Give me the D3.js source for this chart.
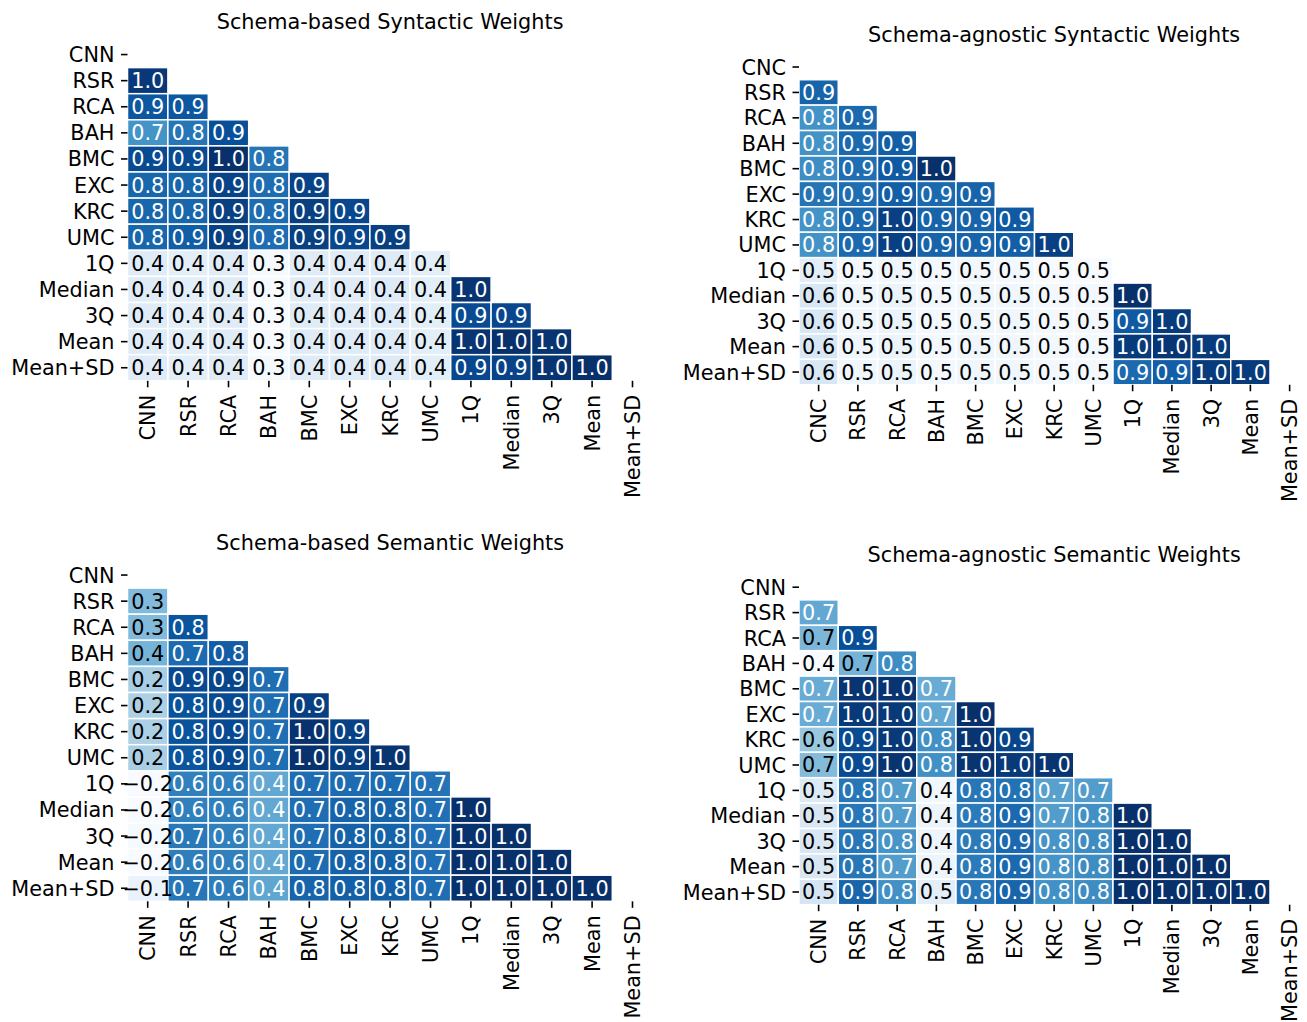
<!DOCTYPE html>
<html>
<head>
<meta charset="utf-8">
<script src="https://cdn.jsdelivr.net/npm/d3@7"></script>
<style>
  html, body { margin: 0; padding: 0; background: #fff; }
  svg text { font-family: "DejaVu Sans", sans-serif; }
</style>
</head>
<body>
<svg id="chart" width="1307" height="1022"></svg>
<script>
// Row/column labels of each correlation matrix
const labelsCNN = ["CNN", "RSR", "RCA", "BAH", "BMC", "EXC", "KRC", "UMC", "1Q", "Median", "3Q", "Mean", "Mean+SD"];
const labelsCNC = ["CNC", "RSR", "RCA", "BAH", "BMC", "EXC", "KRC", "UMC", "1Q", "Median", "3Q", "Mean", "Mean+SD"];

const titles = [
  "Schema-based Syntactic Weights",
  "Schema-agnostic Syntactic Weights",
  "Schema-based Semantic Weights",
  "Schema-agnostic Semantic Weights"
];

// Lower-triangular correlation values; row i holds the values for columns 0..i-1
const schemaBasedSyntactic = [
  [],
  [0.96],
  [0.88, 0.88],
  [0.72, 0.80, 0.90],
  [0.91, 0.91, 0.98, 0.80],
  [0.84, 0.84, 0.93, 0.82, 0.93],
  [0.84, 0.84, 0.94, 0.82, 0.94, 0.92],
  [0.84, 0.86, 0.94, 0.82, 0.94, 0.92, 0.94],
  [0.38, 0.37, 0.38, 0.31, 0.38, 0.38, 0.39, 0.37],
  [0.38, 0.37, 0.38, 0.30, 0.38, 0.38, 0.39, 0.37, 0.97],
  [0.38, 0.37, 0.38, 0.30, 0.38, 0.38, 0.39, 0.37, 0.91, 0.92],
  [0.38, 0.37, 0.38, 0.30, 0.38, 0.38, 0.39, 0.37, 0.97, 0.98, 0.97],
  [0.38, 0.37, 0.38, 0.31, 0.38, 0.38, 0.39, 0.37, 0.92, 0.93, 0.97, 0.98]
];

const schemaAgnosticSyntactic = [
  [],
  [0.89],
  [0.80, 0.88],
  [0.80, 0.88, 0.90],
  [0.81, 0.87, 0.91, 0.99],
  [0.86, 0.87, 0.90, 0.88, 0.89],
  [0.80, 0.88, 0.96, 0.89, 0.89, 0.91],
  [0.80, 0.88, 0.96, 0.89, 0.89, 0.90, 0.96],
  [0.54, 0.50, 0.51, 0.50, 0.505, 0.50, 0.49, 0.49],
  [0.57, 0.51, 0.52, 0.50, 0.51, 0.51, 0.50, 0.50, 0.99],
  [0.57, 0.51, 0.52, 0.50, 0.51, 0.51, 0.50, 0.50, 0.91, 0.97],
  [0.57, 0.51, 0.52, 0.50, 0.51, 0.51, 0.50, 0.50, 0.97, 0.98, 0.97],
  [0.57, 0.51, 0.52, 0.50, 0.51, 0.51, 0.50, 0.50, 0.88, 0.90, 0.97, 0.97]
];

const schemaBasedSemantic = [
  [],
  [0.32],
  [0.32, 0.82],
  [0.355, 0.72, 0.78],
  [0.20, 0.87, 0.89, 0.70],
  [0.18, 0.83, 0.87, 0.70, 0.92],
  [0.18, 0.83, 0.87, 0.70, 0.98, 0.91],
  [0.19, 0.82, 0.87, 0.70, 0.98, 0.92, 0.97],
  [-0.22, 0.62, 0.62, 0.42, 0.70, 0.71, 0.71, 0.68],
  [-0.22, 0.62, 0.62, 0.42, 0.70, 0.75, 0.75, 0.69, 0.99],
  [-0.21, 0.65, 0.62, 0.42, 0.70, 0.76, 0.76, 0.69, 0.98, 0.99],
  [-0.22, 0.63, 0.62, 0.42, 0.71, 0.76, 0.76, 0.69, 0.99, 0.99, 0.99],
  [-0.14, 0.66, 0.63, 0.43, 0.75, 0.77, 0.77, 0.70, 0.98, 0.99, 0.99, 0.99]
];

const schemaAgnosticSemantic = [
  [],
  [0.71],
  [0.67, 0.92],
  [0.40, 0.68, 0.78],
  [0.70, 0.98, 0.98, 0.70],
  [0.70, 0.97, 0.97, 0.71, 0.99],
  [0.63, 0.93, 0.97, 0.77, 0.98, 0.94],
  [0.66, 0.93, 0.98, 0.77, 0.98, 0.97, 0.98],
  [0.48, 0.83, 0.74, 0.42, 0.83, 0.84, 0.73, 0.74],
  [0.49, 0.83, 0.74, 0.43, 0.82, 0.86, 0.74, 0.77, 0.99],
  [0.49, 0.83, 0.76, 0.43, 0.82, 0.86, 0.76, 0.78, 0.99, 0.99],
  [0.49, 0.83, 0.74, 0.43, 0.82, 0.86, 0.76, 0.78, 0.99, 0.99, 0.99],
  [0.50, 0.87, 0.77, 0.46, 0.83, 0.87, 0.77, 0.78, 0.99, 0.99, 0.99, 0.99]
];

// Panel geometry (left edge, top edge, cell width, cell height)
const layout = [
  { x0: 127.5, top: 41.5, cw: 40.4, ch: 26.1 },
  { x0: 799.0, top: 54.3, cw: 39.25, ch: 25.42 },
  { x0: 127.5, top: 562.0, cw: 40.4, ch: 26.1 },
  { x0: 799.0, top: 574.5, cw: 39.25, ch: 25.4 }
];

const panels = [
  { title: titles[0], labels: labelsCNN, values: schemaBasedSyntactic },
  { title: titles[1], labels: labelsCNC, values: schemaAgnosticSyntactic },
  { title: titles[2], labels: labelsCNN, values: schemaBasedSemantic },
  { title: titles[3], labels: labelsCNN, values: schemaAgnosticSemantic }
];

// Matplotlib "Blues" colormap: linear segments between the ColorBrewer stops
const bluesStops = ["#f7fbff", "#deebf7", "#c6dbef", "#9ecae1", "#6baed6", "#4292c6", "#2171b5", "#08519c", "#08306b"];
const bluesInterp = d3.piecewise(d3.interpolateRgb, bluesStops);

// Relative luminance, used to pick black or white annotation text
function luminance(c) {
  const rgb = d3.rgb(c);
  const lin = v => {
    v /= 255;
    return v <= 0.03928 ? v / 12.92 : Math.pow((v + 0.055) / 1.055, 2.4);
  };
  return 0.2126 * lin(rgb.r) + 0.7152 * lin(rgb.g) + 0.0722 * lin(rgb.b);
}

const fmt = d3.format(".1f");
const FONT = 20.8;
const svg = d3.select("#chart");

panels.forEach((p, k) => {
  const L = layout[k];
  const n = p.labels.length;
  const x = d3.scaleBand().domain(p.labels).range([L.x0, L.x0 + n * L.cw]).padding(0);
  const y = d3.scaleBand().domain(p.labels).range([L.top, L.top + n * L.ch]).padding(0);

  const cells = [];
  p.values.forEach((row, i) => row.forEach((v, j) => cells.push({ r: p.labels[i], c: p.labels[j], v })));
  const ext = d3.extent(cells, d => d.v);
  const color = d3.scaleSequential(bluesInterp).domain(ext);

  const g = svg.append("g");

  g.selectAll("rect.cell")
    .data(cells)
    .join("rect")
    .attr("class", "cell")
    .attr("x", d => x(d.c))
    .attr("y", d => y(d.r))
    .attr("width", x.bandwidth())
    .attr("height", y.bandwidth())
    .attr("fill", d => color(d.v))
    .attr("stroke", "#fff")
    .attr("stroke-width", 1.5);

  g.selectAll("text.annot")
    .data(cells)
    .join("text")
    .attr("class", "annot")
    .attr("x", d => x(d.c) + x.bandwidth() / 2)
    .attr("y", d => y(d.r) + y.bandwidth() / 2)
    .attr("dy", "0.36em")
    .attr("text-anchor", "middle")
    .attr("font-size", FONT)
    .attr("fill", d => luminance(color(d.v)) > 0.408 ? "#000" : "#fff")
    .text(d => fmt(d.v).replace("-", "\u2212"));

  // Left axis (row labels)
  const yAxis = g.append("g")
    .attr("transform", `translate(${L.x0},0)`)
    .call(d3.axisLeft(y).tickSize(6.5).tickPadding(6.5));
  yAxis.select(".domain").remove();
  yAxis.selectAll(".tick line").attr("stroke", "#000").attr("stroke-width", 1.6);
  yAxis.selectAll(".tick text")
    .attr("font-size", FONT)
    .attr("font-family", "DejaVu Sans")
    .attr("fill", "#000")
    .attr("dy", "0.36em");

  // Bottom axis (column labels, rotated)
  const bottom = L.top + n * L.ch;
  const xAxis = g.append("g")
    .attr("transform", `translate(0,${bottom})`)
    .call(d3.axisBottom(x).tickSize(6.5).tickPadding(7));
  xAxis.select(".domain").remove();
  xAxis.selectAll(".tick line").attr("stroke", "#000").attr("stroke-width", 1.6);
  xAxis.selectAll(".tick text")
    .attr("font-size", FONT)
    .attr("font-family", "DejaVu Sans")
    .attr("fill", "#000")
    .attr("transform", "rotate(-90)")
    .attr("text-anchor", "end")
    .attr("x", -14)
    .attr("y", 0)
    .attr("dy", "0.36em");

  g.append("text")
    .attr("x", L.x0 + n * L.cw / 2)
    .attr("y", L.top - 12.5)
    .attr("text-anchor", "middle")
    .attr("font-size", FONT)
    .attr("fill", "#000")
    .text(p.title);
});
</script>
</body>
</html>
